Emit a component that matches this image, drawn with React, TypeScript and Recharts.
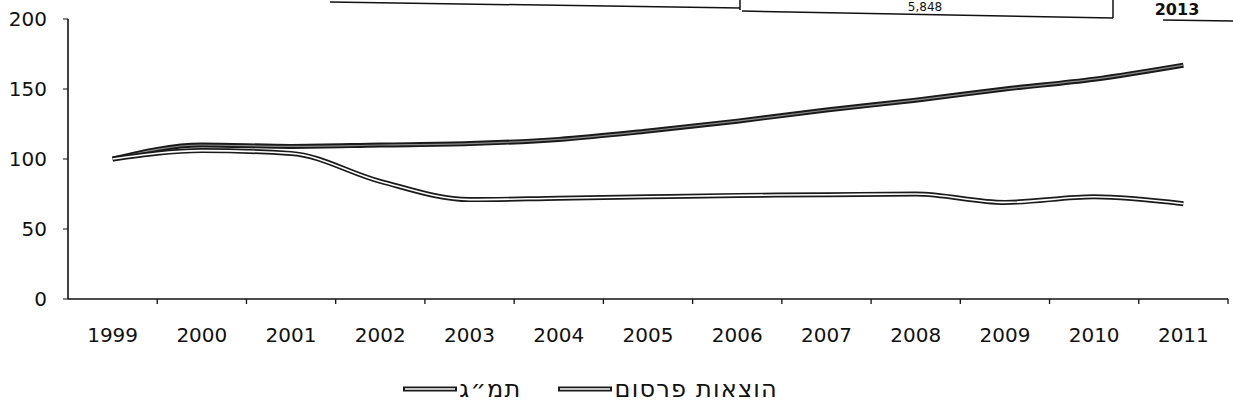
import React from 'react';
import { LineChart, Line, XAxis, YAxis } from 'recharts';

const years = ['1999', '2000', '2001', '2002', '2003', '2004', '2005', '2006', '2007', '2008', '2009', '2010', '2011'];
const gdp = [100, 110, 109, 110, 111, 114, 120, 127, 135, 142, 150, 157, 167];
const ads = [100, 106, 104, 84, 71, 72, 73, 74, 74.5, 75, 69, 73, 68];
const yTicks = [0, 50, 100, 150, 200];
const gdpName = 'תמ״ג';
const adsName = 'הוצאות פרסום';
const topTexts = ['5,848', '2013'];

const data = years.map((y, i) => ({ i, year: y, gdp: gdp[i], ads: ads[i] }));
const xTicks: number[] = [];
years.forEach((_, i) => {
  xTicks.push(i);
  xTicks.push(i + 0.5);
});

const FONT = '"DejaVu Sans", Verdana, sans-serif';

const XTick = (props: any) => {
  const { x, y, payload } = props;
  const v = payload.value as number;
  if (Number.isInteger(v)) {
    return (
      <text x={x} y={y + 29} dy="0.71em" textAnchor="middle" fontFamily={FONT} fontSize={20} fill="#111">
        {years[v]}
      </text>
    );
  }
  return <line x1={x} y1={y} x2={x} y2={y + 5} stroke="#111" strokeWidth={1.3} />;
};

const LegendIcon = () => (
  <svg width={56} height={10} style={{ display: 'block' }}>
    <line x1={1} y1={5} x2={55} y2={5} stroke="#1a1a1a" strokeWidth={5} />
    <line x1={3} y1={5} x2={53} y2={5} stroke="#fff" strokeWidth={1.4} />
  </svg>
);

export default function App() {
  return (
    <div style={{ position: 'absolute', left: 0, top: 0, width: 1233, height: 412, background: '#fff' }}>
      <svg width={1233} height={30} style={{ position: 'absolute', left: 0, top: 0 }}>
        <line x1={330} y1={2} x2={740} y2={8} stroke="#111" strokeWidth={1.5} />
        <line x1={740} y1={0} x2={740} y2={10} stroke="#111" strokeWidth={1.5} />
        <line x1={742} y1={11} x2={1113} y2={18} stroke="#111" strokeWidth={1.5} />
        <line x1={1113} y1={0} x2={1113} y2={18} stroke="#111" strokeWidth={1.5} />
        <line x1={1163} y1={20} x2={1233} y2={21} stroke="#111" strokeWidth={1.5} />
        <text x={925} y={11} textAnchor="middle" fontFamily={FONT} fontSize={12} fill="#111">{topTexts[0]}</text>
        <text x={1177} y={15} textAnchor="middle" fontFamily={FONT} fontSize={16} fontWeight="bold" fill="#111">{topTexts[1]}</text>
      </svg>
      <LineChart width={1233} height={412} data={data} margin={{ top: 19, right: 5, left: 0, bottom: 0 }}>
        <XAxis
          dataKey="i"
          type="number"
          domain={[-0.5, 12.5]}
          ticks={xTicks}
          interval={0}
          tick={<XTick />}
          tickLine={false}
          tickSize={0}
          tickMargin={0}
          height={113}
          axisLine={{ stroke: '#111', strokeWidth: 1.3 }}
        />
        <YAxis
          domain={[0, 200]}
          ticks={yTicks}
          interval={0}
          width={68}
          tickSize={5}
          tickMargin={16}
          tick={{ fontFamily: FONT, fontSize: 20, fill: '#111' }}
          tickLine={{ stroke: '#111' }}
          axisLine={{ stroke: '#111', strokeWidth: 1.6 }}
        />
        <Line type="monotone" dataKey="gdp" name={gdpName} stroke="#1a1a1a" strokeWidth={5} dot={false} activeDot={false} isAnimationActive={false} />
        <Line type="monotone" dataKey="gdp" stroke="#8a8a8a" strokeWidth={1.2} dot={false} activeDot={false} legendType="none" isAnimationActive={false} />
        <Line type="monotone" dataKey="ads" name={adsName} stroke="#1a1a1a" strokeWidth={5} dot={false} activeDot={false} isAnimationActive={false} />
        <Line type="monotone" dataKey="ads" stroke="#ffffff" strokeWidth={1.6} dot={false} activeDot={false} legendType="none" isAnimationActive={false} />
      </LineChart>
      <div
        style={{
          position: 'absolute',
          right: 1233 - 778,
          top: 374,
          display: 'flex',
          direction: 'rtl',
          alignItems: 'center',
          fontFamily: FONT,
          fontSize: 24,
          letterSpacing: '1.2px',
          lineHeight: '30px',
          color: '#111',
        }}
      >
        <span>{adsName}</span>
        <span style={{ marginRight: 2 }}><LegendIcon /></span>
        <span style={{ marginRight: 35 }}>{gdpName}</span>
        <span style={{ marginRight: 1 }}><LegendIcon /></span>
      </div>
    </div>
  );
}
